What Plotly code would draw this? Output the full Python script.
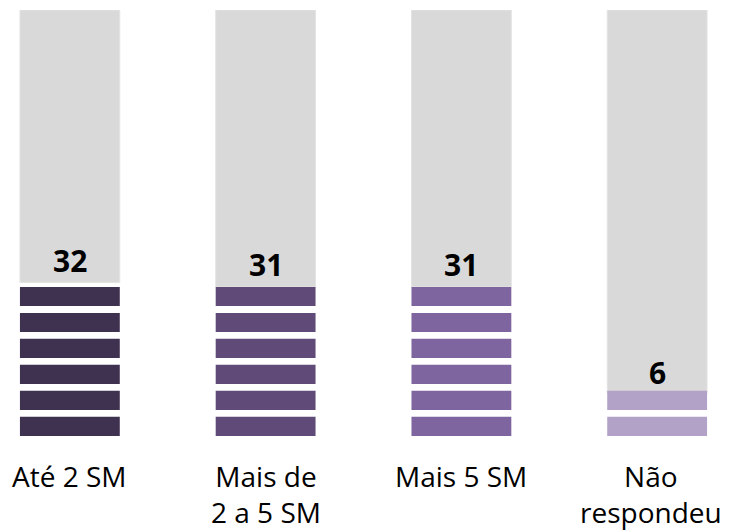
import plotly.graph_objects as go

categories = ["Até 2 SM", "Mais de<br>2 a 5 SM", "Mais 5 SM", "Não<br>respondeu"]
values = [32, 31, 31, 6]
colors = ["#3F3250", "#5F4A78", "#7F659F", "#B3A2C8"]

PITCH = 6.1      # spacing of the stacked blocks (axis units)
BLOCK = 4.5      # height of each block
OFFSET = 4       # grey bar starts a little above the value
BAR_W = 0.51

fig = go.Figure()
xs = list(range(len(categories)))

# grey background bars
fig.add_trace(go.Bar(
    x=xs, y=[100 - (v + OFFSET) for v in values], base=[v + OFFSET for v in values],
    width=BAR_W, marker=dict(color="#D9D9D9", line=dict(color="#E4E4E4", width=1)),
    hoverinfo="skip", showlegend=False))

# stacked blocks
for i, v in enumerate(values):
    n = round((v + OFFSET) / PITCH)
    fig.add_trace(go.Bar(
        x=[i] * n, y=[BLOCK] * n, base=[k * PITCH for k in range(n)],
        width=BAR_W, marker=dict(color=colors[i], line=dict(width=0)),
        hoverinfo="skip", showlegend=False))

# value labels
for i, v in enumerate(values):
    fig.add_annotation(x=i, y=v + OFFSET, text=f"<b>{v}</b>", showarrow=False,
                       yanchor="bottom", yshift=-2 if i == 3 else 0,
                       font=dict(family="Open Sans", size=30, color="#000000"))

# category labels
for i, c in enumerate(categories):
    fig.add_annotation(x=i, y=0, text=c, showarrow=False, yanchor="top", yshift=-19,
                       xshift=-6 if i == len(categories) - 1 else 0,
                       font=dict(family="Open Sans", size=28, color="#000000"))

fig.update_layout(
    width=730, height=531,
    margin=dict(l=0, r=0, t=2, b=103),
    barmode="overlay",
    plot_bgcolor="white", paper_bgcolor="white",
    xaxis=dict(range=[-0.316, 3.413], showticklabels=False, showgrid=False,
               zeroline=False, showline=False, fixedrange=True),
    yaxis=dict(range=[0, 100], visible=False, fixedrange=True),
)

fig.write_html("out.html")
